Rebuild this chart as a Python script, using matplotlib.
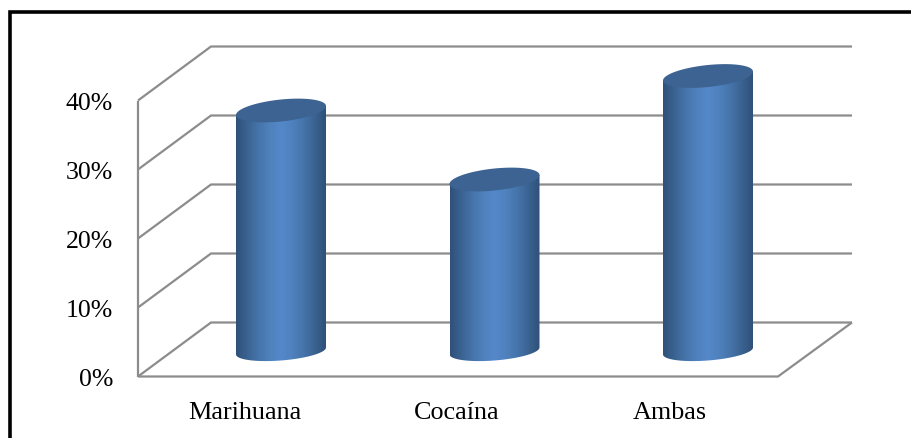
import numpy as np
import matplotlib
matplotlib.use('Agg')
import matplotlib.pyplot as plt
from matplotlib.colors import LinearSegmentedColormap
from matplotlib.patches import PathPatch
from matplotlib.path import Path

categories = ['Marihuana', 'Cocaína', 'Ambas']
values = [35, 25, 40]
y_ticks = [0, 10, 20, 30, 40]
y_labels = ['0%', '10%', '20%', '30%', '40%']

W, H = 911, 439
PX_PER_PCT = 6.9
PX_PER_CAT = 213.5
X0, Y0 = 281, 353  # pixel position of first bar base centre
BAR_W = 90
ELL_H = 22


def dx(x):
    return (x - X0) / PX_PER_CAT


def dy(y):
    return (Y0 - y) / PX_PER_PCT


plt.rcParams['font.family'] = ['Liberation Serif', 'DejaVu Serif']
fig = plt.figure(figsize=(W / 100, H / 100), dpi=100)
ax = fig.add_axes([0, 0, 1, 1])
# data units: x = category index, y = percent (on the plane of the bars)
ax.axis('off')


def line_px(xs, ys, z=1):
    ax.plot([dx(x) for x in xs], [dy(y) for y in ys],
            color='#8c8c8c', lw=1.6, zorder=z, solid_capstyle='butt')


# walls and floor
FRONT_L, FRONT_R, BACK_L, BACK_R = 138, 778, 211, 852
FRONT_0, BACK_0 = 377.5, 323.5
for t in y_ticks:
    yf = FRONT_0 - PX_PER_PCT * t
    yb = BACK_0 - PX_PER_PCT * t
    line_px([FRONT_L, BACK_L, BACK_R], [yf, yb, yb])
line_px([FRONT_L, FRONT_L], [FRONT_0, FRONT_0 - PX_PER_PCT * 40])
line_px([FRONT_L, FRONT_R, BACK_R], [FRONT_0, FRONT_0, BACK_0])

# tick labels
for t, lab in zip(y_ticks, y_labels):
    ax.text(dx(113), dy(FRONT_0 - PX_PER_PCT * t + 3), lab,
            ha='right', va='center', fontsize=18.5, color='black')
label_x = [245, 457, 670]
for c, lx in zip(categories, label_x):
    ax.text(dx(lx), dy(413), c, ha='center', va='center', fontsize=18.8, color='black')

# cylinders
cmap = LinearSegmentedColormap.from_list(
    'cyl', ['#2f5079', '#3a6391', '#4674ab', '#4f81bd', '#5488ca', '#4f81bd', '#4674ab', '#3a6391', '#2f5079'])
grad = np.linspace(0, 1, 256).reshape(1, -1)
half_w = BAR_W / PX_PER_CAT / 2
half_h = ELL_H / PX_PER_PCT / 2
for i, v in enumerate(values):
    theta = np.linspace(np.pi, 2 * np.pi, 60)
    bx = i + half_w * np.cos(theta)
    by = 0.15 + 1.38 * np.sin(theta) + 0.5 * np.cos(theta)
    ty = v + 0.65 * np.cos(theta[::-1])
    verts = list(zip(bx, by)) + list(zip(bx[::-1], ty)) + [(bx[0], by[0])]
    body = PathPatch(Path(verts), fc='none', ec='none', zorder=3)
    ax.add_patch(body)
    im = ax.imshow(grad, extent=[i - half_w, i + half_w, -5, 45], aspect='auto', cmap=cmap, zorder=3)
    im.set_clip_path(body)
    # top cap
    phi = np.linspace(0, 2 * np.pi, 100)
    cx = i + half_w * np.cos(phi)
    cy = v + half_h * np.sin(phi) + 0.65 * np.cos(phi)
    ax.fill(cx, cy, color='#3c6391', lw=0, zorder=4)

ax.set_xlim(dx(0), dx(W))
ax.set_ylim(dy(H), dy(0))

# black frame, left and top sides only are drawn here
ax.plot([dx(10), dx(10), dx(W)], [dy(H), dy(12.5), dy(12.5)], color='black', lw=2.6, zorder=5,
        solid_joinstyle='miter')
fig.savefig('out.png', dpi=100)
